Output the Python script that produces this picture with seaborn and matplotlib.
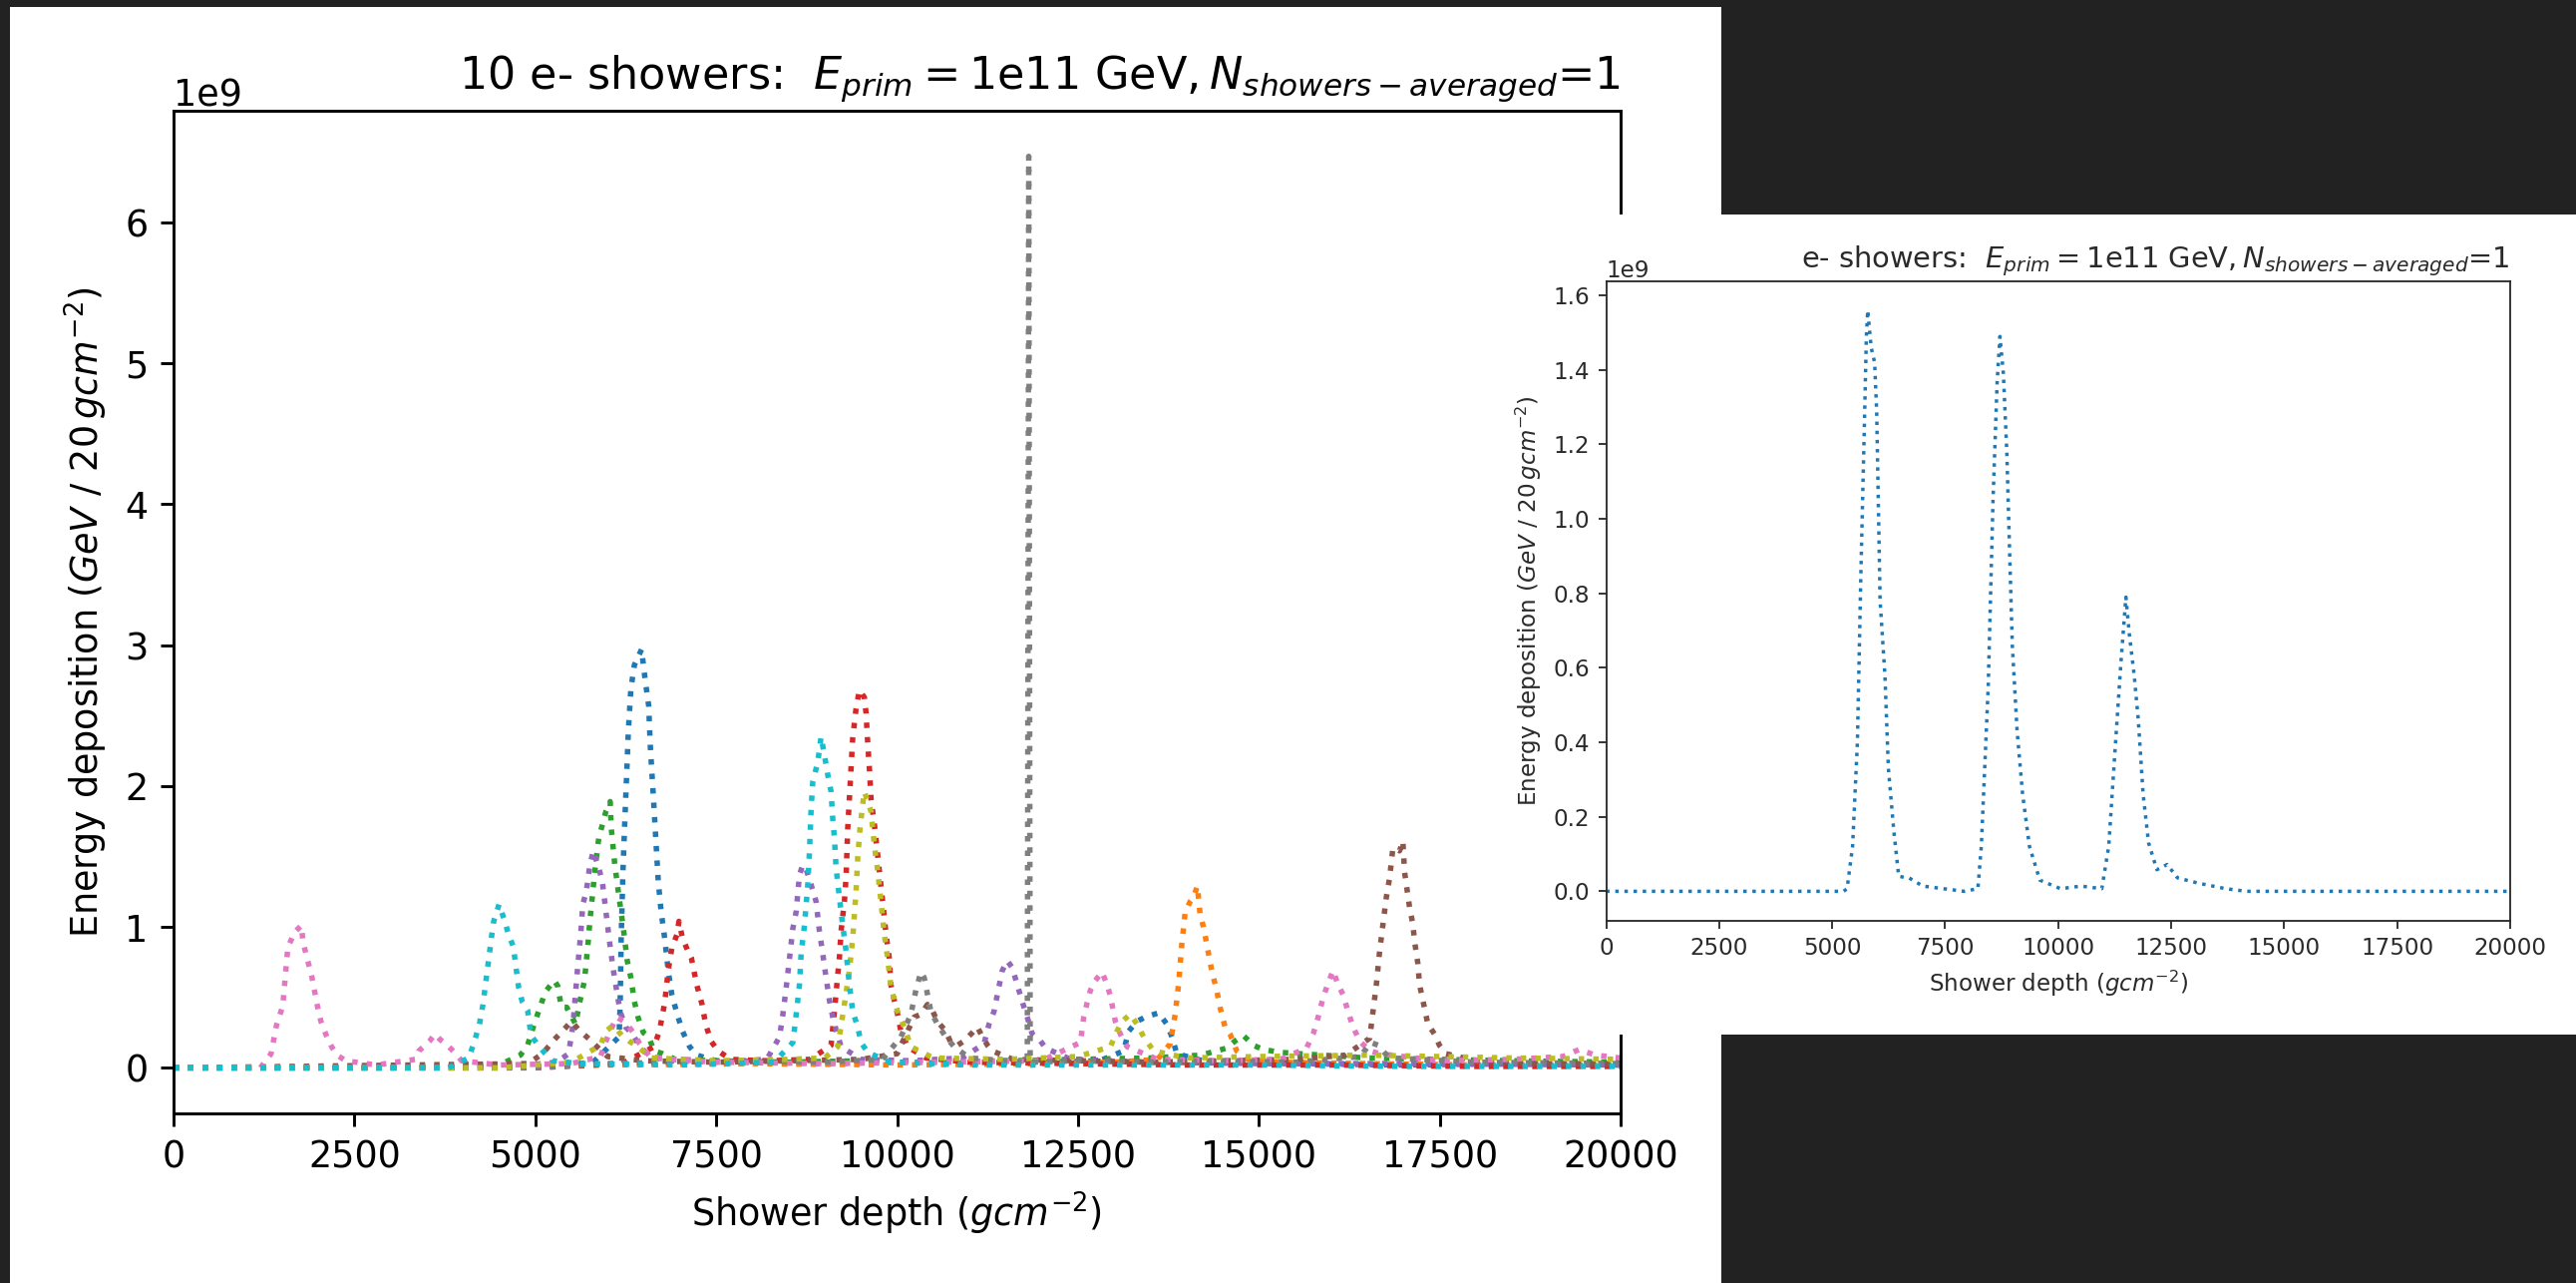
import numpy as np
import pandas as pd
import matplotlib
matplotlib.use("Agg")
import matplotlib.pyplot as plt
from matplotlib.patches import Rectangle
import seaborn as sb

# Energy values below are in units of 1e9 GeV per 20 g/cm^2 bin
GEV_SCALE = 1e9

# ---- left chart: 10 showers, one colour each (tab10 order) ----
blueX = [0, 3000, 5200, 5800, 6158, 6173, 6187, 6212, 6237, 6261, 6286, 6321, 6370, 6469, 6517, 6567, 6591,
         6630, 6665, 6700, 6739, 6788, 6837, 6887, 6961, 7035, 7133, 7231, 7500, 8000, 9000, 10000, 11000,
         12000, 12800, 13132, 13201, 13316, 13431, 13614, 13729, 13798, 13867, 14300, 15500, 17000, 18500, 20000]
blueY = [0, 0, 0.01, 0.04, 0.22, 0.45, 0.92, 1.40, 1.75, 2.06, 2.39, 2.69, 2.86, 2.97, 2.76, 2.57, 2.27,
         1.94, 1.63, 1.32, 1.11, 0.92, 0.69, 0.52, 0.38, 0.26, 0.15, 0.09, 0.05, 0.04, 0.03, 0.04, 0.03,
         0.04, 0.05, 0.12, 0.26, 0.33, 0.36, 0.39, 0.31, 0.22, 0.10, 0.04, 0.03, 0.02, 0.03, 0.02]

orangeX = [0, 4000, 6000, 8000, 10000, 12000, 13000, 13600, 13775, 13844, 13890, 13936, 13981, 14050, 14096,
           14151, 14188, 14234, 14280, 14349, 14418, 14464, 14533, 14602, 14694, 14850, 15200, 16500, 18000, 20000]
orangeY = [0, 0, 0.02, 0.03, 0.02, 0.03, 0.04, 0.06, 0.17, 0.38, 0.59, 0.88, 1.10, 1.18, 1.21,
           1.29, 1.09, 1.00, 0.88, 0.69, 0.55, 0.43, 0.29, 0.24, 0.12, 0.06, 0.04, 0.03, 0.02, 0.02]

greenX = [0, 3000, 4500, 4794, 4893, 4991, 5065, 5139, 5262, 5311, 5360, 5434, 5557, 5607, 5680, 5730, 5754,
          5828, 5877, 5976, 6035, 6050, 6099, 6158, 6222, 6271, 6321, 6370, 6419, 6493, 6567, 6641, 6764, 6936,
          7500, 8500, 9500, 10500, 11500, 12500, 13500, 14200, 14556, 14671, 14786, 14923, 15061, 15291, 15567,
          16500, 17500, 18500, 20000]
greenY = [0, 0, 0.02, 0.09, 0.16, 0.32, 0.43, 0.54, 0.62, 0.58, 0.43, 0.43, 0.31, 0.45, 0.62, 0.89, 1.04,
          1.42, 1.63, 1.82, 1.89, 1.70, 1.44, 1.21, 0.97, 0.76, 0.64, 0.47, 0.36, 0.25, 0.22, 0.12, 0.10, 0.06,
          0.05, 0.04, 0.05, 0.04, 0.05, 0.06, 0.07, 0.09, 0.14, 0.19, 0.23, 0.16, 0.13, 0.11, 0.10,
          0.07, 0.06, 0.05, 0.04]

redX = [0, 5000, 6200, 6641, 6715, 6788, 6837, 6887, 6961, 6985, 7035, 7108, 7157, 7231, 7305, 7354, 7428,
        7526, 7700, 8200, 8800, 9088, 9134, 9180, 9203, 9226, 9272, 9295, 9318, 9341, 9364, 9387, 9433, 9479,
        9548, 9571, 9594, 9617, 9640, 9686, 9732, 9755, 9801, 9847, 9892, 9915, 9961, 10007, 10053, 10145,
        10400, 11000, 12500, 14000, 16000, 18000, 20000]
redY = [0, 0, 0.03, 0.15, 0.26, 0.46, 0.69, 0.85, 0.95, 1.04, 0.92, 0.83, 0.78, 0.59, 0.45, 0.31, 0.19,
        0.12, 0.06, 0.05, 0.06, 0.16, 0.40, 0.66, 0.78, 0.97, 1.18, 1.35, 1.70, 1.91, 2.13, 2.34, 2.55, 2.68,
        2.63, 2.52, 2.31, 2.13, 1.91, 1.73, 1.51, 1.40, 1.18, 0.95, 0.78, 0.59, 0.48, 0.38, 0.26, 0.15,
        0.07, 0.04, 0.03, 0.02, 0.02, 0.01, 0.01]

purpleX = [0, 4500, 5300, 5459, 5520, 5582, 5631, 5656, 5705, 5754, 5803, 5877, 5927, 5976, 6025, 6074, 6124,
           6173, 6247, 6345, 6444, 6567, 6800, 7500, 8200, 8376, 8422, 8468, 8514, 8560, 8606, 8651, 8697, 8743,
           8812, 8881, 8927, 8973, 9019, 9065, 9111, 9157, 9226, 9500, 10200, 10900, 11202, 11271, 11340, 11386,
           11454, 11523, 11593, 11661, 11730, 11799, 11868, 11983, 12052, 12400, 13500, 15000, 17000, 20000]
purpleY = [0, 0, 0.04, 0.10, 0.30, 0.69, 0.97, 1.16, 1.25, 1.44, 1.54, 1.42, 1.32, 1.11, 0.90, 0.71, 0.55,
           0.40, 0.29, 0.24, 0.15, 0.09, 0.05, 0.04, 0.06, 0.22, 0.38, 0.57, 0.78, 0.99, 1.11, 1.37, 1.44, 1.41,
           1.30, 1.18, 0.97, 0.81, 0.64, 0.48, 0.36, 0.27, 0.15, 0.06, 0.05, 0.07, 0.17, 0.31, 0.40, 0.52,
           0.69, 0.76, 0.71, 0.59, 0.47, 0.36, 0.24, 0.19, 0.14, 0.06, 0.04, 0.03, 0.03, 0.02]

brownX = [0, 4900, 5100, 5262, 5410, 5500, 5600, 5754, 5852, 6000, 6500, 7500, 8500, 9500, 10000, 10237,
          10329, 10421, 10467, 10558, 10673, 10742, 10834, 10926, 11041, 11110, 11179, 11250, 11316, 11600,
          12500, 13500, 14500, 15500, 16200, 16532, 16578, 16624, 16670, 16716, 16762, 16808, 16853, 16945,
          16991, 17014, 17083, 17129, 17152, 17198, 17221, 17267, 17336, 17428, 17496, 17588, 18000, 19000, 20000]
brownY = [0, 0.03, 0.10, 0.20, 0.28, 0.33, 0.27, 0.20, 0.15, 0.08, 0.05, 0.04, 0.05, 0.06, 0.10, 0.36,
          0.38, 0.45, 0.43, 0.33, 0.26, 0.18, 0.16, 0.19, 0.25, 0.29, 0.22, 0.16, 0.12, 0.06,
          0.05, 0.04, 0.05, 0.06, 0.09, 0.21, 0.40, 0.59, 0.83, 1.02, 1.21, 1.35, 1.56, 1.54,
          1.61, 1.39, 1.14, 1.02, 0.90, 0.74, 0.59, 0.48, 0.31, 0.24, 0.16, 0.10, 0.05, 0.03, 0.03]

pinkX = [0, 1200, 1348, 1422, 1510, 1545, 1579, 1668, 1766, 1791, 1855, 1914, 1988, 2037, 2111, 2185, 2259,
         2382, 2800, 3342, 3391, 3539, 3613, 3686, 3785, 3883, 3982, 4500, 5500, 5900, 6000, 6124, 6222, 6296,
         6370, 6444, 6600, 7500, 9000, 10500, 12000, 12534, 12580, 12626, 12672, 12741, 12833, 12902, 12948,
         13017, 13086, 13178, 13600, 14500, 15300, 15659, 15751, 15820, 15889, 15957, 16026, 16095, 16164,
         16233, 16302, 16394, 16532, 16670, 17500, 18500, 19200, 19427, 19650, 20000]
pinkY = [0, 0, 0.10, 0.30, 0.44, 0.65, 0.85, 0.96, 1.01, 0.89, 0.76, 0.64, 0.44, 0.33, 0.23, 0.15, 0.09,
         0.05, 0.02, 0.06, 0.12, 0.19, 0.24, 0.20, 0.16, 0.11, 0.05, 0.02, 0.03, 0.08, 0.22, 0.36, 0.33, 0.29,
         0.24, 0.17, 0.07, 0.04, 0.03, 0.04, 0.05, 0.18, 0.36, 0.46, 0.55, 0.62, 0.68, 0.59, 0.51,
         0.33, 0.24, 0.15, 0.06, 0.05, 0.06, 0.14, 0.24, 0.36, 0.50, 0.60, 0.69, 0.59, 0.52,
         0.40, 0.29, 0.19, 0.12, 0.10, 0.05, 0.06, 0.08, 0.13, 0.09, 0.07]

greyX = [0, 5000, 6000, 7000, 8000, 9000, 9800, 10053, 10191, 10260, 10329, 10375, 10421, 10467, 10558,
         10673, 10788, 11000, 11500, 11800, 11820, 11840, 12500, 13500, 14500, 15500, 16400, 16550, 16650,
         16800, 18000, 20000]
greyY = [0, 0, 0.03, 0.04, 0.05, 0.04, 0.06, 0.22, 0.38, 0.55, 0.68, 0.64, 0.52, 0.40, 0.31,
         0.22, 0.15, 0.07, 0.05, 0.04, 6.47, 0.04, 0.05, 0.04, 0.05, 0.04, 0.08, 0.18, 0.16,
         0.07, 0.04, 0.03]

oliveX = [0, 4500, 5500, 5902, 5976, 6074, 6198, 6296, 6419, 6600, 7500, 8500, 9000, 9180, 9272, 9341, 9387,
          9433, 9456, 9488, 9525, 9548, 9594, 9640, 9686, 9732, 9778, 9823, 9869, 9915, 10007, 10099, 10191,
          10500, 11500, 12500, 12948, 13040, 13109, 13224, 13316, 13408, 13546, 14000, 15000, 16500, 17500,
          18500, 20000]
oliveY = [0, 0, 0.04, 0.16, 0.26, 0.30, 0.23, 0.19, 0.15, 0.07, 0.05, 0.06, 0.07, 0.15, 0.45, 0.69, 0.92,
          1.25, 1.49, 1.70, 1.87, 1.96, 1.89, 1.82, 1.58, 1.40, 1.18, 0.95, 0.78, 0.57, 0.40, 0.29, 0.15,
          0.07, 0.06, 0.08, 0.15, 0.26, 0.33, 0.38, 0.31, 0.22, 0.12, 0.07, 0.08, 0.09, 0.08,
          0.07, 0.06]

cyanX = [0, 3800, 4080, 4154, 4228, 4277, 4326, 4400, 4425, 4499, 4573, 4622, 4696, 4770, 4819, 4893, 4942,
         5040, 5139, 5237, 5600, 7000, 8300, 8560, 8606, 8651, 8674, 8720, 8766, 8789, 8812, 8835, 8904, 8950,
         8996, 9042, 9088, 9111, 9134, 9157, 9203, 9249, 9295, 9341, 9387, 9456, 9502, 9594, 9900, 11000,
         13000, 15000, 17000, 20000]
cyanY = [0, 0, 0.07, 0.18, 0.31, 0.45, 0.65, 0.95, 1.04, 1.16, 1.05, 0.96, 0.86, 0.57, 0.47, 0.41, 0.23,
         0.16, 0.10, 0.05, 0.03, 0.02, 0.04, 0.18, 0.38, 0.59, 0.81, 1.01, 1.30, 1.53, 1.84, 2.03, 2.17, 2.35,
         2.22, 2.08, 1.96, 1.77, 1.63, 1.42, 1.21, 1.01, 0.83, 0.59, 0.40, 0.29, 0.18, 0.11, 0.04, 0.02,
         0.02, 0.02, 0.01, 0.01]

showerDepths = [blueX, orangeX, greenX, redX, purpleX, brownX, pinkX, greyX, oliveX, cyanX]
showerEdeps = [blueY, orangeY, greenY, redY, purpleY, brownY, pinkY, greyY, oliveY, cyanY]

# ---- right chart: single shower ----
singleX = [0, 2500, 5000, 5254, 5330, 5452, 5559, 5635, 5711, 5757, 5787, 5864, 5940, 5985, 6061, 6168, 6244,
           6366, 6473, 6701, 7006, 7463, 7920, 8224, 8300, 8453, 8559, 8651, 8712, 8788, 8864, 8910, 8986, 9092,
           9214, 9366, 9595, 10052, 10509, 10966, 11118, 11270, 11392, 11499, 11575, 11682, 11773, 11880, 12001,
           12184, 12412, 12641, 13098, 13707, 14164, 17000, 20000]
singleY = [0, 0, 0, 0, 0.007, 0.12, 0.40, 0.85, 1.24, 1.49, 1.56, 1.46, 1.42, 1.29, 0.78, 0.58, 0.33,
           0.16, 0.04, 0.036, 0.014, 0.007, 0, 0.007, 0.12, 0.55, 1.05, 1.37, 1.49, 1.39, 1.18, 0.98, 0.66, 0.43,
           0.26, 0.12, 0.03, 0.007, 0.014, 0.007, 0.12, 0.40, 0.62, 0.79, 0.69, 0.58, 0.46, 0.26, 0.13,
           0.058, 0.072, 0.036, 0.022, 0.007, 0, 0, 0]

depthTicks = [0, 2500, 5000, 7500, 10000, 12500, 15000, 17500, 20000]
xLabel = r"Shower depth ($gcm^{-2}$)"
yLabel = r"Energy deposition ($GeV\ /\ 20\,gcm^{-2}$)"

W, H = 2583, 1286

def figRect(left, top, right, bottom):
    # pixel box (from top-left) -> figure fraction
    return [left / W, (H - bottom) / H, (right - left) / W, (bottom - top) / H]

# Styles one screenshot's axes; k is how much it was blown up from default matplotlib sizes
def styleAxes(ax, k, textColor):
    ax.set_xlim(0, 20000)
    ax.set_xticks(depthTicks)
    ax.tick_params(labelsize=10 * k, length=3.5 * k, width=0.8 * k, pad=3.5 * k,
                   direction="out", colors=textColor)
    ax.yaxis.get_offset_text().set_fontsize(10 * k)
    ax.yaxis.get_offset_text().set_color(textColor)
    for s in ax.spines.values():
        s.set_linewidth(0.8 * k)
        s.set_color(textColor)
    ax.set_xlabel(xLabel, fontsize=10 * k, labelpad=4 * k, color=textColor)
    ax.set_ylabel(yLabel, fontsize=10 * k, labelpad=4 * k, color=textColor)

fig = plt.figure(figsize=(W / 100, H / 100), dpi=100, facecolor="#222222")

# white background of the first screenshot
fig.add_artist(Rectangle((10 / W, 0), 1716 / W, 1279 / H, transform=fig.transFigure,
                         facecolor="white", edgecolor="none", zorder=-5))

# big chart
rows = []
for i, (xs, ys) in enumerate(zip(showerDepths, showerEdeps)):
    for x, y in zip(xs, ys):
        rows.append((i, x, y * GEV_SCALE))
df = pd.DataFrame(rows, columns=["shower", "depth", "edep"])

k1 = 2.63
ax = fig.add_axes(figRect(174, 111, 1625, 1116), zorder=0)
sb.lineplot(data=df, x="depth", y="edep", hue="shower", palette="tab10", linestyle=":",
            linewidth=1.5 * k1, estimator=None, legend=False, ax=ax)
styleAxes(ax, k1, "black")
ax.set_title(r"10 e- showers:  $E_{prim} = $1e11 GeV$, N_{showers-averaged}$=1",
             loc="right", fontsize=12.2 * k1, pad=6 * k1)

# second screenshot overlapping on the right
panel = fig.add_axes(figRect(1495, 215, 2583, 1037), zorder=5)
panel.set_facecolor("white")
panel.set_xticks([])
panel.set_yticks([])
for s in panel.spines.values():
    s.set_visible(False)

k2 = 1.66
single = pd.DataFrame({"depth": singleX, "edep": np.array(singleY) * GEV_SCALE})
ax2 = fig.add_axes(figRect(1610.5, 282, 2517, 922.5), zorder=6)
sb.lineplot(data=single, x="depth", y="edep", color="tab:blue", linestyle=":",
            linewidth=1.5 * k2, estimator=None, ax=ax2)
ax2.set_yticks(np.arange(0, 1.61e9, 0.2e9))
styleAxes(ax2, k2, "#2a2a2a")
ax2.set_title(r"e- showers:  $E_{prim} = $1e11 GeV$, N_{showers-averaged}$=1",
              loc="right", fontsize=12.5 * k2, pad=6 * k2, color="#2a2a2a")

fig.savefig("out.png", dpi=100, facecolor=fig.get_facecolor())
